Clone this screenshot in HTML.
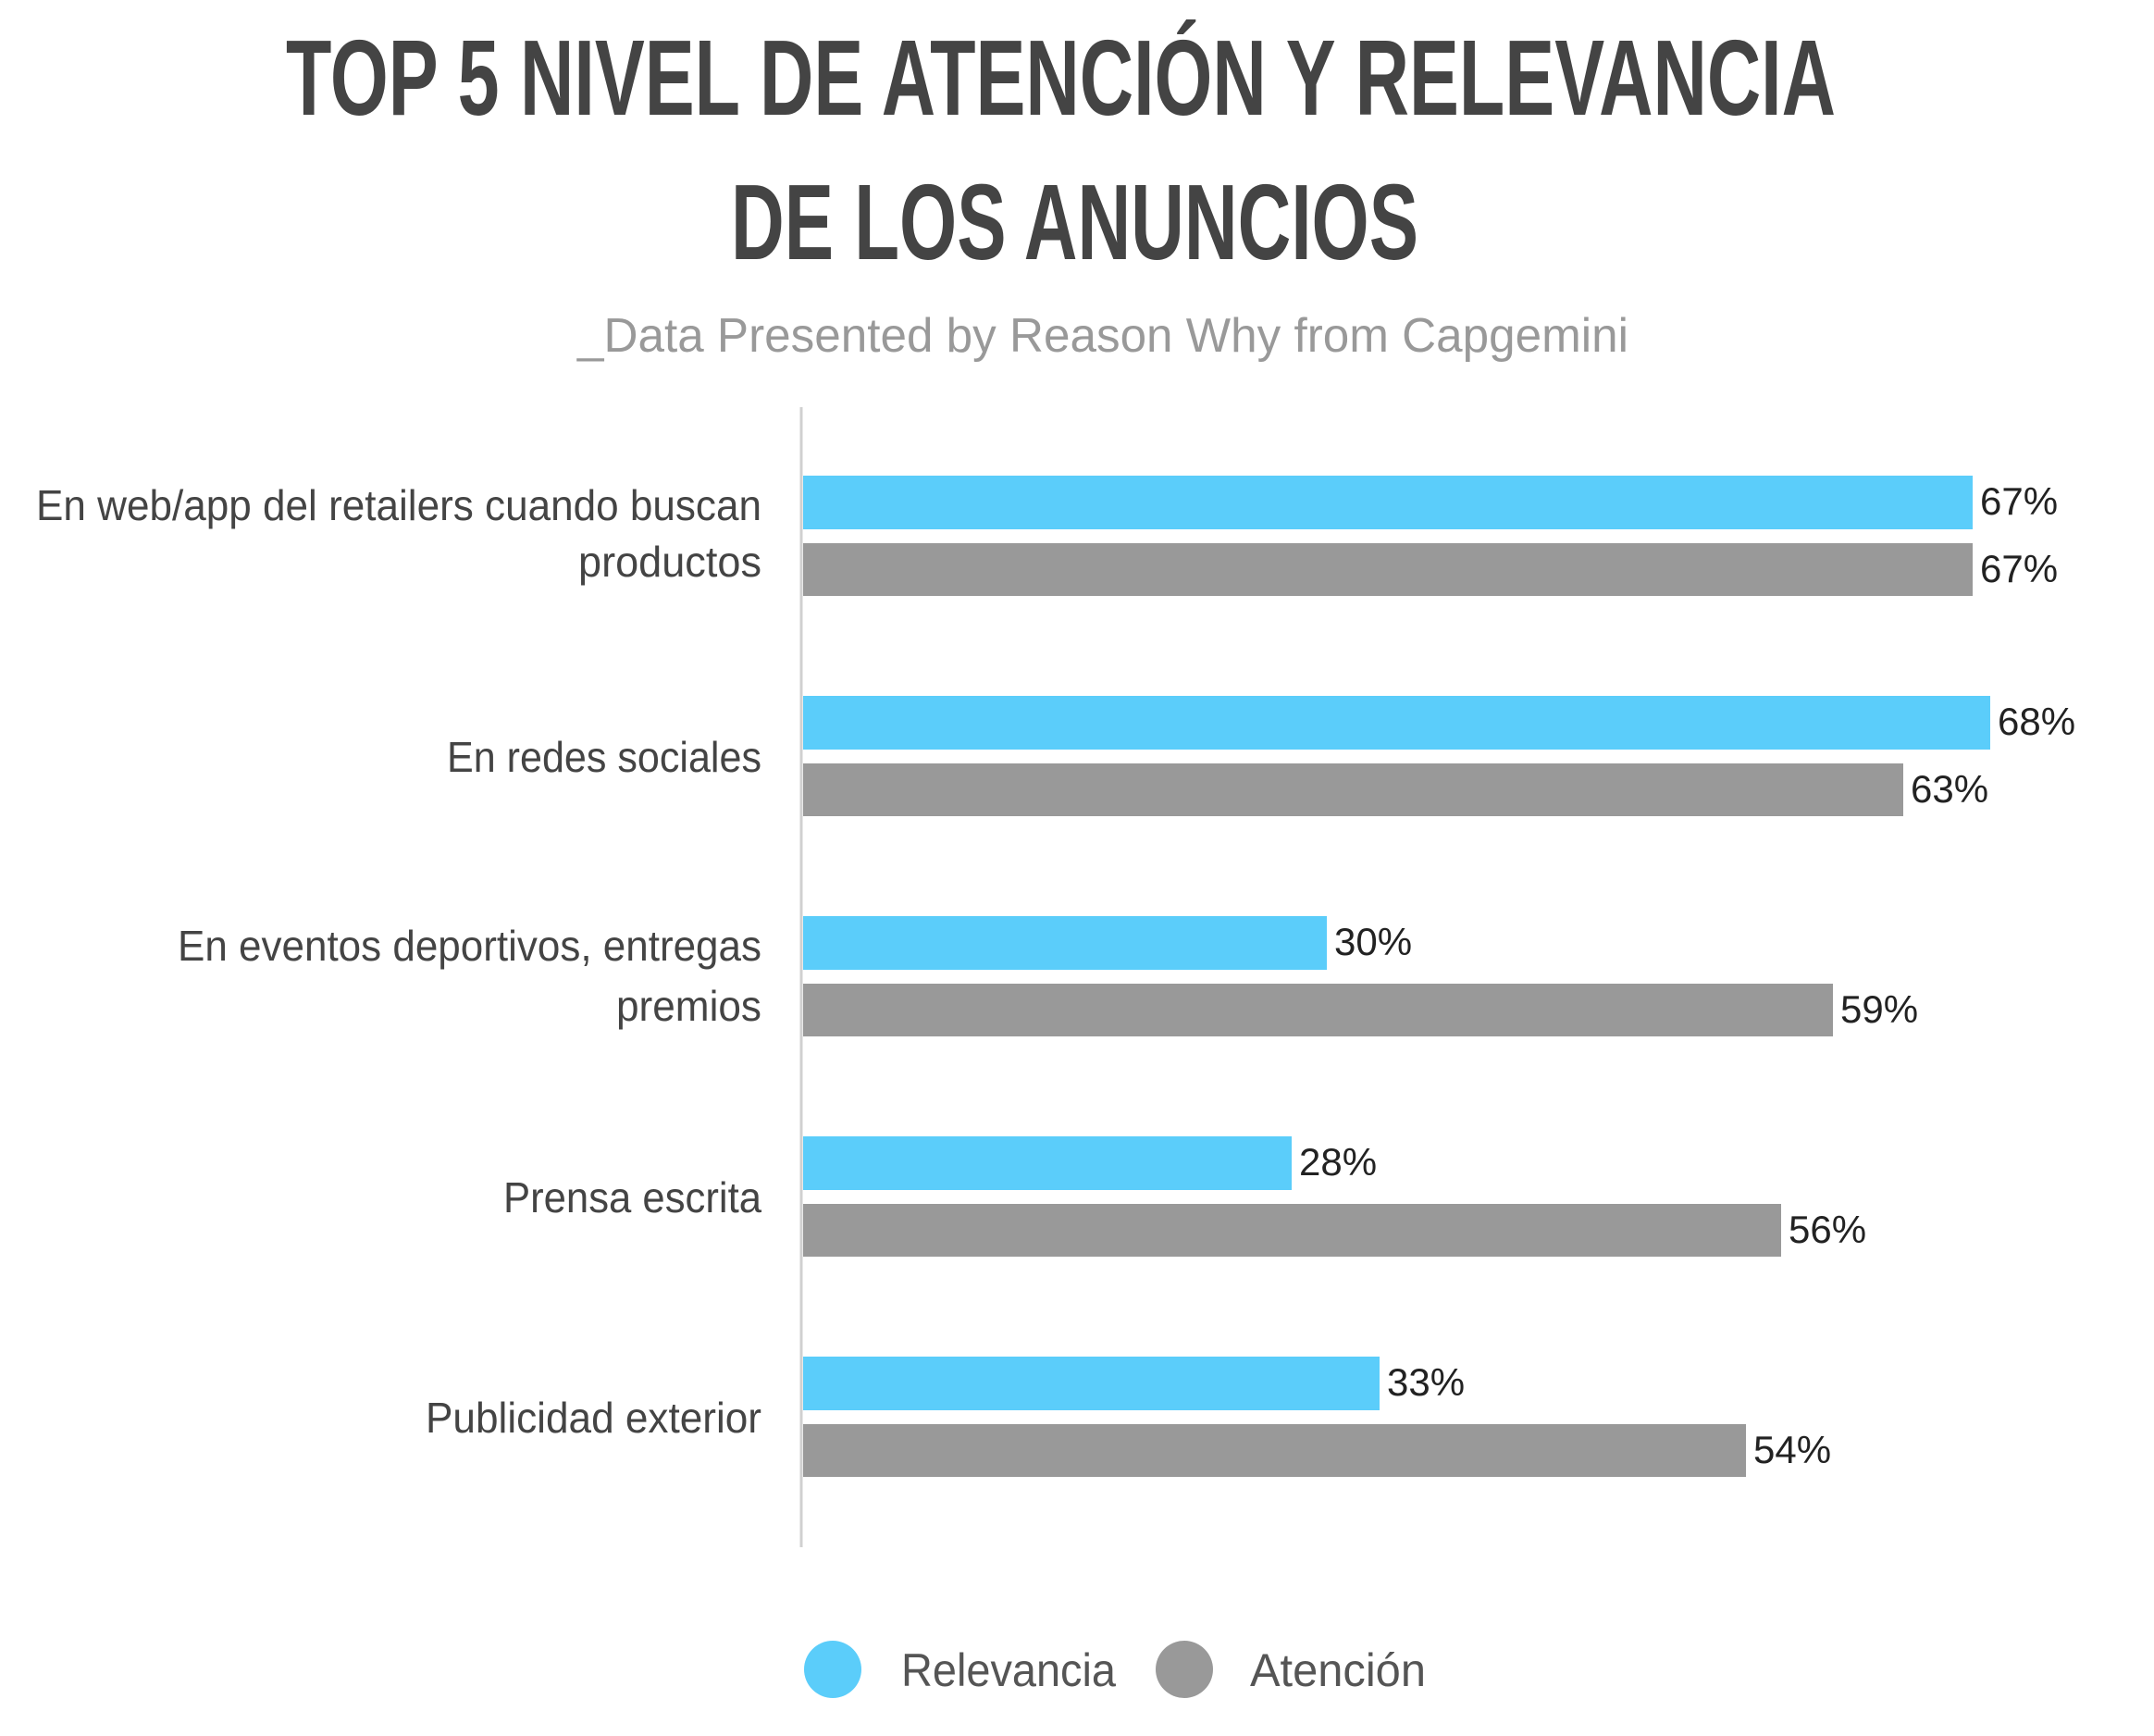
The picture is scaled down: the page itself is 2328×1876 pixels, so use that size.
<!DOCTYPE html>
<html><head><meta charset="utf-8"><style>
html,body{margin:0;padding:0;background:#fff;}
svg{display:block;}
</style></head><body>
<svg width="2328" height="1876" viewBox="0 0 2328 1876" xmlns="http://www.w3.org/2000/svg">
<rect width="2328" height="1876" fill="#fff"/>
<g font-family="'Liberation Sans Narrow','Liberation Sans',sans-serif" font-weight="bold" fill="#444" font-size="116">
<text x="309" y="124" textLength="1675" lengthAdjust="spacingAndGlyphs">TOP 5 NIVEL DE ATENCIÓN Y RELEVANCIA</text>
<text x="790" y="280" textLength="743" lengthAdjust="spacingAndGlyphs">DE LOS ANUNCIOS</text>
</g>
<text x="624" y="380" font-family="'Liberation Sans',sans-serif" font-size="52" fill="#999" textLength="1136" lengthAdjust="spacingAndGlyphs">_Data Presented by Reason Why from Capgemini</text>
<line x1="866" y1="440" x2="866" y2="1672" stroke="#d0d0d0" stroke-width="3"/>
<g>
<rect x="868" y="514" width="1264" height="58" fill="#5bcdfa"/>
<rect x="868" y="587" width="1264" height="57" fill="#999"/>
<rect x="868" y="752" width="1283" height="58" fill="#5bcdfa"/>
<rect x="868" y="825" width="1189" height="57" fill="#999"/>
<rect x="868" y="990" width="566" height="58" fill="#5bcdfa"/>
<rect x="868" y="1063" width="1113" height="57" fill="#999"/>
<rect x="868" y="1228" width="528" height="58" fill="#5bcdfa"/>
<rect x="868" y="1301" width="1057" height="57" fill="#999"/>
<rect x="868" y="1466" width="623" height="58" fill="#5bcdfa"/>
<rect x="868" y="1539" width="1019" height="57" fill="#999"/>
</g>
<g font-family="'Liberation Sans',sans-serif" font-size="42" fill="#222">
<text x="2140" y="556">67%</text>
<text x="2140" y="629">67%</text>
<text x="2159" y="794">68%</text>
<text x="2065" y="867">63%</text>
<text x="1442" y="1032">30%</text>
<text x="1989" y="1105">59%</text>
<text x="1404" y="1270">28%</text>
<text x="1933" y="1343">56%</text>
<text x="1499" y="1508">33%</text>
<text x="1895" y="1581">54%</text>
</g>
<g font-family="'Liberation Sans',sans-serif" font-size="46" fill="#444" text-anchor="end">
<text x="823" y="562" textLength="784" lengthAdjust="spacingAndGlyphs">En web/app del retailers cuando buscan</text>
<text x="823" y="623" textLength="198" lengthAdjust="spacingAndGlyphs">productos</text>
<text x="823" y="834" textLength="340" lengthAdjust="spacingAndGlyphs">En redes sociales</text>
<text x="823" y="1038" textLength="631" lengthAdjust="spacingAndGlyphs">En eventos deportivos, entregas</text>
<text x="823" y="1103" textLength="157" lengthAdjust="spacingAndGlyphs">premios</text>
<text x="823" y="1310" textLength="279" lengthAdjust="spacingAndGlyphs">Prensa escrita</text>
<text x="823" y="1548" textLength="363" lengthAdjust="spacingAndGlyphs">Publicidad exterior</text>
</g>
<circle cx="900" cy="1804" r="31" fill="#5bcdfa"/>
<circle cx="1280" cy="1804" r="31" fill="#999"/>
<g font-family="'Liberation Sans',sans-serif" font-size="50" fill="#555">
<text x="974" y="1822" textLength="232" lengthAdjust="spacingAndGlyphs">Relevancia</text>
<text x="1351" y="1822" textLength="190" lengthAdjust="spacingAndGlyphs">Atención</text>
</g>
</svg>
</body></html>
